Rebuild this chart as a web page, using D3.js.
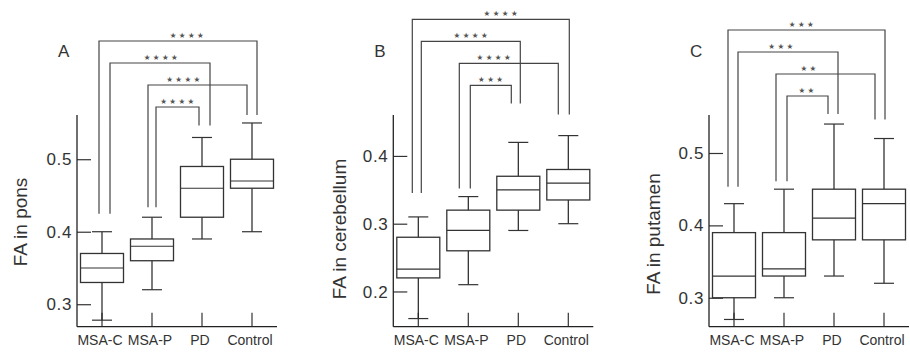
<!DOCTYPE html>
<html lang="en">
  <head>
    <meta charset="utf-8">
    <title>FA box plots</title>
    <style>
      body { margin: 0; background: #fff; }
      svg { display: block; font-family: "Liberation Sans", Arial, sans-serif; }
      .tick-label, .cat-label { fill: #333; }
    </style>
  </head>
  <body>
    <svg class="chart"></svg>
    <script src="https://d3js.org/d3.v7.min.js"></script>
    <script>
      // groups and significance labels
      const groups = ["MSA-C", "MSA-P", "PD", "Control"];

      // box stats per group: [whisker low, q1, median, q3, whisker high]
      const ponsStats = [
        [0.278, 0.33, 0.35, 0.37, 0.40],
        [0.32, 0.36, 0.38, 0.39, 0.42],
        [0.39, 0.42, 0.46, 0.49, 0.53],
        [0.40, 0.46, 0.47, 0.50, 0.55]
      ];
      const cerebellumStats = [
        [0.16, 0.22, 0.233, 0.28, 0.31],
        [0.21, 0.26, 0.29, 0.32, 0.34],
        [0.29, 0.32, 0.35, 0.37, 0.42],
        [0.30, 0.335, 0.36, 0.38, 0.43]
      ];
      const putamenStats = [
        [0.27, 0.30, 0.33, 0.39, 0.43],
        [0.30, 0.33, 0.34, 0.39, 0.45],
        [0.33, 0.38, 0.41, 0.45, 0.54],
        [0.32, 0.38, 0.43, 0.45, 0.52]
      ];

      // comparisons: [from group, to group, stars], top bracket first
      const ponsSig = [["MSA-C", "Control", "****"], ["MSA-C", "PD", "****"], ["MSA-P", "Control", "****"], ["MSA-P", "PD", "****"]];
      const cerebellumSig = [["MSA-C", "Control", "****"], ["MSA-C", "PD", "****"], ["MSA-P", "Control", "****"], ["MSA-P", "PD", "***"]];
      const putamenSig = [["MSA-C", "Control", "***"], ["MSA-C", "PD", "***"], ["MSA-P", "Control", "**"], ["MSA-P", "PD", "**"]];

      const ponsTicks = [0.3, 0.4, 0.5];
      const cerebellumTicks = [0.2, 0.3, 0.4];
      const putamenTicks = [0.3, 0.4, 0.5];

      // layout for each panel
      const panels = [
        { letter: "A", title: "FA in pons", stats: ponsStats, sig: ponsSig, ticks: ponsTicks,
          x0: 77, domain: [0.269, 0.561], titleY: 222, titleDx: -50, bracketTop: 41,
          legGap: [18, 10, 12, 8],
          legDx: [[-3, 5], [8, 8], [-4, -5], [4, -3]],
          starDx: [10, 2, -13, 1] },
        { letter: "B", title: "FA in cerebellum", stats: cerebellumStats, sig: cerebellumSig, ticks: cerebellumTicks,
          x0: 393.3, domain: [0.148, 0.4604], titleY: 229, titleDx: -47, bracketTop: 19.3,
          legGap: [24, 8, 39, 21],
          legDx: [[-6, 1], [3, 2], [-9, -10], [2, -7]],
          starDx: [11, 1, -14, 1] },
        { letter: "C", title: "FA in putamen", stats: putamenStats, sig: putamenSig, ticks: putamenTicks,
          x0: 709, domain: [0.26, 0.5525], titleY: 234, titleDx: -49, bracketTop: 30,
          legGap: [17, 8, 10, 19],
          legDx: [[-6, 1], [4, 4], [-8, -9], [3, -6]],
          starDx: [-4, -6, -16, 0] }
      ];

      const width = 910, height = 354;
      const plotTop = 115, plotBottom = 326.7, plotWidth = 200;
      const bracketStep = 22;

      const svg = d3.select(".chart").attr("width", width).attr("height", height);

      panels.forEach(function(p) {
        const x = d3.scaleBand().domain(groups).range([p.x0, p.x0 + plotWidth]);
        const y = d3.scaleLinear().domain(p.domain).range([plotBottom, plotTop]);
        const g = svg.append("g");
        const cx = d => x(d) + x.bandwidth() / 2;
        const boxW = x.bandwidth() * 0.86;
        const capW = 20;

        // y axis, ticks pointing inward
        const yAxis = d3.axisRight(y).tickValues(p.ticks).tickSize(14).tickFormat(d3.format(".1f"));
        const ya = g.append("g").attr("transform", "translate(" + p.x0 + ",0)").call(yAxis);
        ya.select(".domain").remove();
        ya.selectAll(".tick text").remove();
        ya.selectAll(".tick line").attr("stroke", "#333").attr("stroke-width", 1.2);
        g.append("line")
          .attr("x1", p.x0).attr("x2", p.x0)
          .attr("y1", plotTop).attr("y2", plotBottom)
          .attr("stroke", "#222").attr("stroke-width", 1.3);
        g.selectAll(".tick-label").data(p.ticks).enter()
          .append("text").attr("class", "tick-label")
          .attr("x", p.x0 - 5).attr("y", d => y(d))
          .attr("dy", "0.36em").attr("text-anchor", "end")
          .style("font-size", "17px").style("letter-spacing", "0.6px")
          .text(d3.format(".1f"));

        // x axis, ticks pointing up
        const xAxis = d3.axisTop(x).tickSize(14).tickFormat("");
        const xa = g.append("g").attr("transform", "translate(0," + plotBottom + ")").call(xAxis);
        xa.select(".domain").remove();
        xa.selectAll(".tick line").attr("stroke", "#333").attr("stroke-width", 1.2);
        g.append("line")
          .attr("x1", p.x0).attr("x2", p.x0 + plotWidth)
          .attr("y1", plotBottom).attr("y2", plotBottom)
          .attr("stroke", "#222").attr("stroke-width", 1.3);
        g.selectAll(".cat-label").data(groups).enter()
          .append("text").attr("class", "cat-label")
          .attr("x", d => cx(d) - 2).attr("y", 345)
          .attr("text-anchor", "middle")
          .style("font-size", "14px")
          .text(d => d);

        // axis title and panel letter
        g.append("text")
          .attr("transform", "translate(" + (p.x0 + p.titleDx) + "," + p.titleY + ") rotate(-90)")
          .attr("text-anchor", "middle")
          .style("font-size", "19px").attr("fill", "#333")
          .text(p.title);
        g.append("text")
          .attr("x", p.x0 - 19).attr("y", 57)
          .style("font-size", "17px").attr("fill", "#333")
          .text(p.letter);

        // boxes
        const boxes = g.selectAll(".box").data(p.stats).enter().append("g").attr("class", "box");
        boxes.append("line")
          .attr("x1", (d, i) => cx(groups[i])).attr("x2", (d, i) => cx(groups[i]))
          .attr("y1", d => y(d[0])).attr("y2", d => y(d[4]))
          .attr("stroke", "#222").attr("stroke-width", 1.2);
        boxes.append("rect")
          .attr("x", (d, i) => cx(groups[i]) - boxW / 2)
          .attr("width", boxW)
          .attr("y", d => y(d[3]))
          .attr("height", d => y(d[1]) - y(d[3]))
          .attr("fill", "#fff").attr("stroke", "#333").attr("stroke-width", 1.3);
        boxes.append("line")
          .attr("x1", (d, i) => cx(groups[i]) - boxW / 2).attr("x2", (d, i) => cx(groups[i]) + boxW / 2)
          .attr("y1", d => y(d[2])).attr("y2", d => y(d[2]))
          .attr("stroke", "#333").attr("stroke-width", 1.2);
        [0, 4].forEach(function(k) {
          boxes.append("line")
            .attr("x1", (d, i) => cx(groups[i]) - capW / 2).attr("x2", (d, i) => cx(groups[i]) + capW / 2)
            .attr("y1", d => y(d[k])).attr("y2", d => y(d[k]))
            .attr("stroke", "#333").attr("stroke-width", 1.2);
        });

        // significance brackets
        p.sig.forEach(function(s, i) {
          const a = groups.indexOf(s[0]), b = groups.indexOf(s[1]);
          const xl = cx(s[0]) + p.legDx[i][0];
          const xr = cx(s[1]) + p.legDx[i][1];
          const yb = p.bracketTop + i * bracketStep;
          const yl = y(p.stats[a][4]) - p.legGap[a];
          const yr = y(p.stats[b][4]) - p.legGap[b];
          g.append("path")
            .attr("d", "M" + xl + "," + yl + "V" + yb + "H" + xr + "V" + yr)
            .attr("fill", "none").attr("stroke", "#444").attr("stroke-width", 1.2);
          g.append("text")
            .attr("x", (xl + xr) / 2 + p.starDx[i]).attr("y", yb - 3)
            .attr("text-anchor", "middle")
            .style("font-family", "DejaVu Sans")
            .style("font-size", "7.5px").style("letter-spacing", "2.4px")
            .attr("fill", "#555")
            .text(s[2].replace(/\*/g, "\u2605"));
        });
      });
    </script>
  </body>
</html>
